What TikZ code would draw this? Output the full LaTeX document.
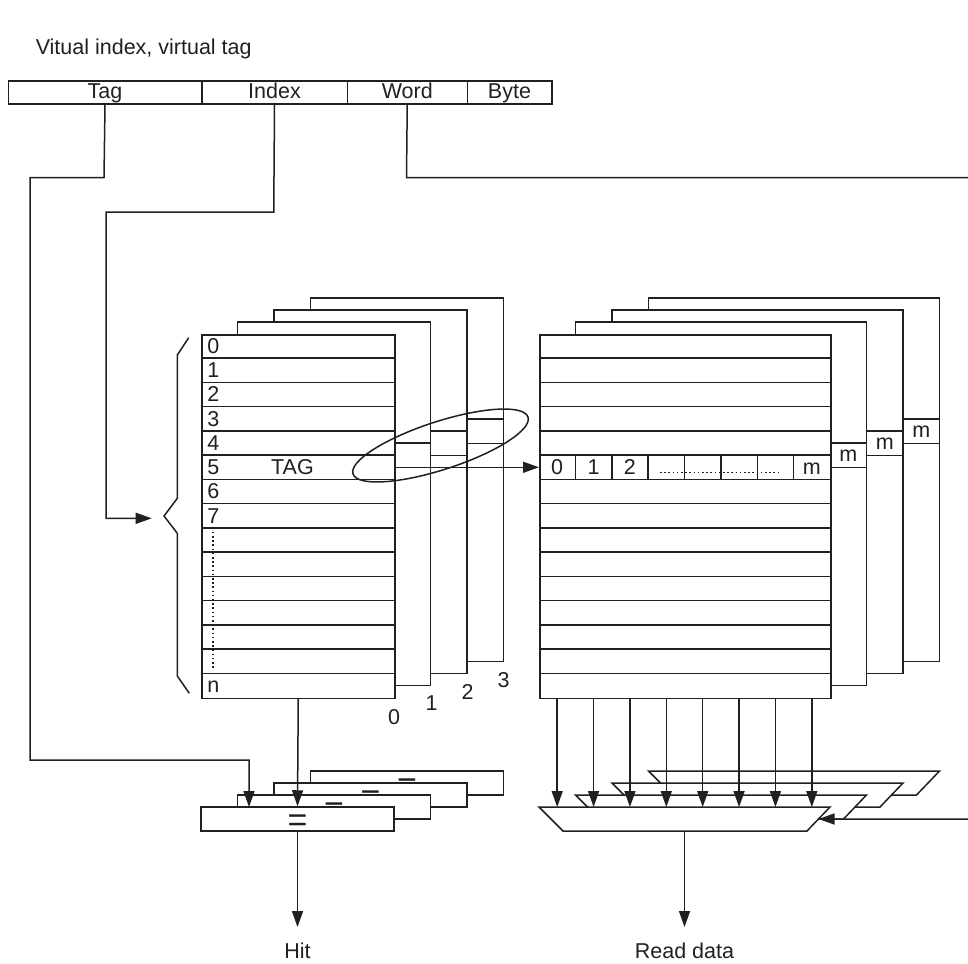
\documentclass[tikz,border=0pt]{standalone}
\usepackage{fontspec}
\setmainfont{Liberation Sans}
\usetikzlibrary{arrows.meta,calc}
\definecolor{ink}{HTML}{231F20}
\begin{document}
\begin{tikzpicture}[x=1pt,y=-1pt,line width=1.5pt,color=ink,
  txt/.style={font=\fontsize{21.5}{25}\selectfont,inner sep=0pt},
  field/.style={draw,font=\fontsize{21.5}{25}\selectfont,inner sep=0pt,minimum height=23pt,text height=15.5pt,text depth=3pt,anchor=west},
  arr/.style={-{Triangle[length=16pt,width=11pt]}},
  layer/.style={draw,fill=white},
  eqsign/.style={font=\fontsize{34}{34}\selectfont,inner sep=0pt},
  dots/.style={line width=1.6pt,dash pattern=on 1.6pt off 2.6pt},
  cmp/.style={draw,fill=white,minimum width=193pt,minimum height=24pt,inner sep=0pt}]
\useasboundingbox (0,0) rectangle (968,963);

% title
\node[txt,anchor=base west] (title) at (35,55) {Vitual index, virtual tag};

% address fields
\node[field,minimum width=193.5pt] (ftag) at (7.5,92.5) {Tag};
\node[field,minimum width=145.5pt] (findex) at (201,92.5) {Index};
\node[field,minimum width=120pt] (fword) at (346.5,92.5) {Word};
\node[field,minimum width=84.5pt] (fbyte) at (466.5,92.5) {Byte};

% ---------------- tag array ----------------
\def\rh{24.233}
\foreach \k in {3,2,1}{
  \pgfmathsetmacro{\dx}{36.5*\k}\pgfmathsetmacro{\dy}{-12*\k}
  \begin{scope}[shift={(\dx,\dy)}]
    \draw[layer] (201,334) rectangle (394,697.5);
    \draw (201,334+5*\rh) -- (394,334+5*\rh) (201,334+6*\rh) -- (394,334+6*\rh);
  \end{scope}
}
\node[draw,fill=white,minimum width=193pt,minimum height=363.5pt,inner sep=0pt,anchor=north west] (tagarr) at (201,334) {};
\foreach \i in {1,...,14}{\draw (201,334+\i*\rh) -- (394,334+\i*\rh);}
\foreach \i in {0,...,7}{\node[txt,anchor=base west] (r\i) at (206.5,334+\i*\rh+19.5) {\i};}
\node[txt,anchor=base west] (rn) at (206.5,334+14*\rh+19.5) {n};
\node[txt,anchor=base] (tagtxt) at (292.5,334+5*\rh+19.5) {TAG};
\draw[dots] (213,531.7) -- (213,668.3);
\node[txt] (w0) at (394,716.7) {0};
\node[txt] (w1) at (431.5,703.3) {1};
\node[txt] (w2) at (467.5,691.7) {2};
\node[txt] (w3) at (503.5,680) {3};

% brace
\draw[line join=miter] (188.7,337.7) -- (177.3,355) -- (177.3,498.3) -- (164,516) coordinate (bracetip)
  -- (177.3,533.3) -- (177.3,676) -- (189.3,693.3);

% ---------------- data array ----------------
\def\cw{36.375}
\foreach \k in {3,2,1}{
  \pgfmathsetmacro{\dx}{36.5*\k}\pgfmathsetmacro{\dy}{-12*\k}
  \begin{scope}[shift={(\dx,\dy)}]
    \draw[layer] (539,334) rectangle (830,697.5);
    \draw (830-\cw,334+5*\rh) rectangle (830,334+6*\rh);
    \node[txt,anchor=base] at (830-\cw/2,334+5*\rh+18.5) {m};
  \end{scope}
}
\node[draw,fill=white,minimum width=291pt,minimum height=363.5pt,inner sep=0pt,anchor=north west] (dataarr) at (539,334) {};
\foreach \i in {1,...,14}{\draw (539,334+\i*\rh) -- (830,334+\i*\rh);}
\foreach \i in {1,...,7}{\draw (539+\i*\cw,334+5*\rh) -- (539+\i*\cw,334+6*\rh);}
\foreach \i/\t in {0/0,1/1,2/2,7/m}{\node[txt,anchor=base] (c\i) at (539+\i*\cw+\cw/2,334+5*\rh+19.3) {\t};}
\draw[dots] (660,472.3) -- (781.7,472.3);

% ---------------- comparators ----------------
\foreach \k in {3,2,1,0}{
  \node[cmp] (cmp\k) at (297.5+36.5*\k,819-12*\k) {};
  \node[eqsign] at (297.5+36.5*\k,823.5-12*\k) {=};
}

% ---------------- multiplexers ----------------
\foreach \k in {3,2,1,0}{
  \begin{scope}[shift={(36.5*\k,-12*\k)}]
    \draw[layer,line join=miter] (539,807) -- (830,807) -- (807,831) -- (563,831) -- cycle;
  \end{scope}
}
\coordinate (muxtop) at (684.5,807);
\coordinate (muxbot) at (684.5,831);
\coordinate (muxright) at (818.5,819);

% ---------------- connectors ----------------
\coordinate (hitend) at (297.5,927);
\coordinate (rdend) at (684.5,927);
\node[txt,anchor=base] (hit) at (297.5,958) {Hit};
\node[txt,anchor=base] (rdata) at (684.5,958) {Read data};

\foreach \i in {0,...,7}{
  \draw[arr] (539+\i*\cw+\cw/2,697.5) -- (539+\i*\cw+\cw/2,807);
}
\draw[arr] (tagarr.south) -- (cmp0.north);
\draw[arr] (cmp0.south) -- (hitend);
\draw[arr] (muxbot) -- (rdend);
\draw[arr] (394,334+5.5*\rh) -- (539,334+5.5*\rh);

\draw[arr] (ftag.south) -- (104,177.7) -- (30,177.7) -- (30,760) -- (249,760) -- (249,807);
\draw[arr] (findex.south) -- (273.75,212) -- (106,212) -- (106,518.3) -- (151.7,518.3);
\draw[arr] (fword.south) -- (406.5,177.7) -- (975,177.7) -- (975,819) -- (muxright);

% ellipse
\draw[shift={(440.5,445.5)},rotate=18] (0,0) ellipse [x radius=92, y radius=24];
\end{tikzpicture}
\end{document}
